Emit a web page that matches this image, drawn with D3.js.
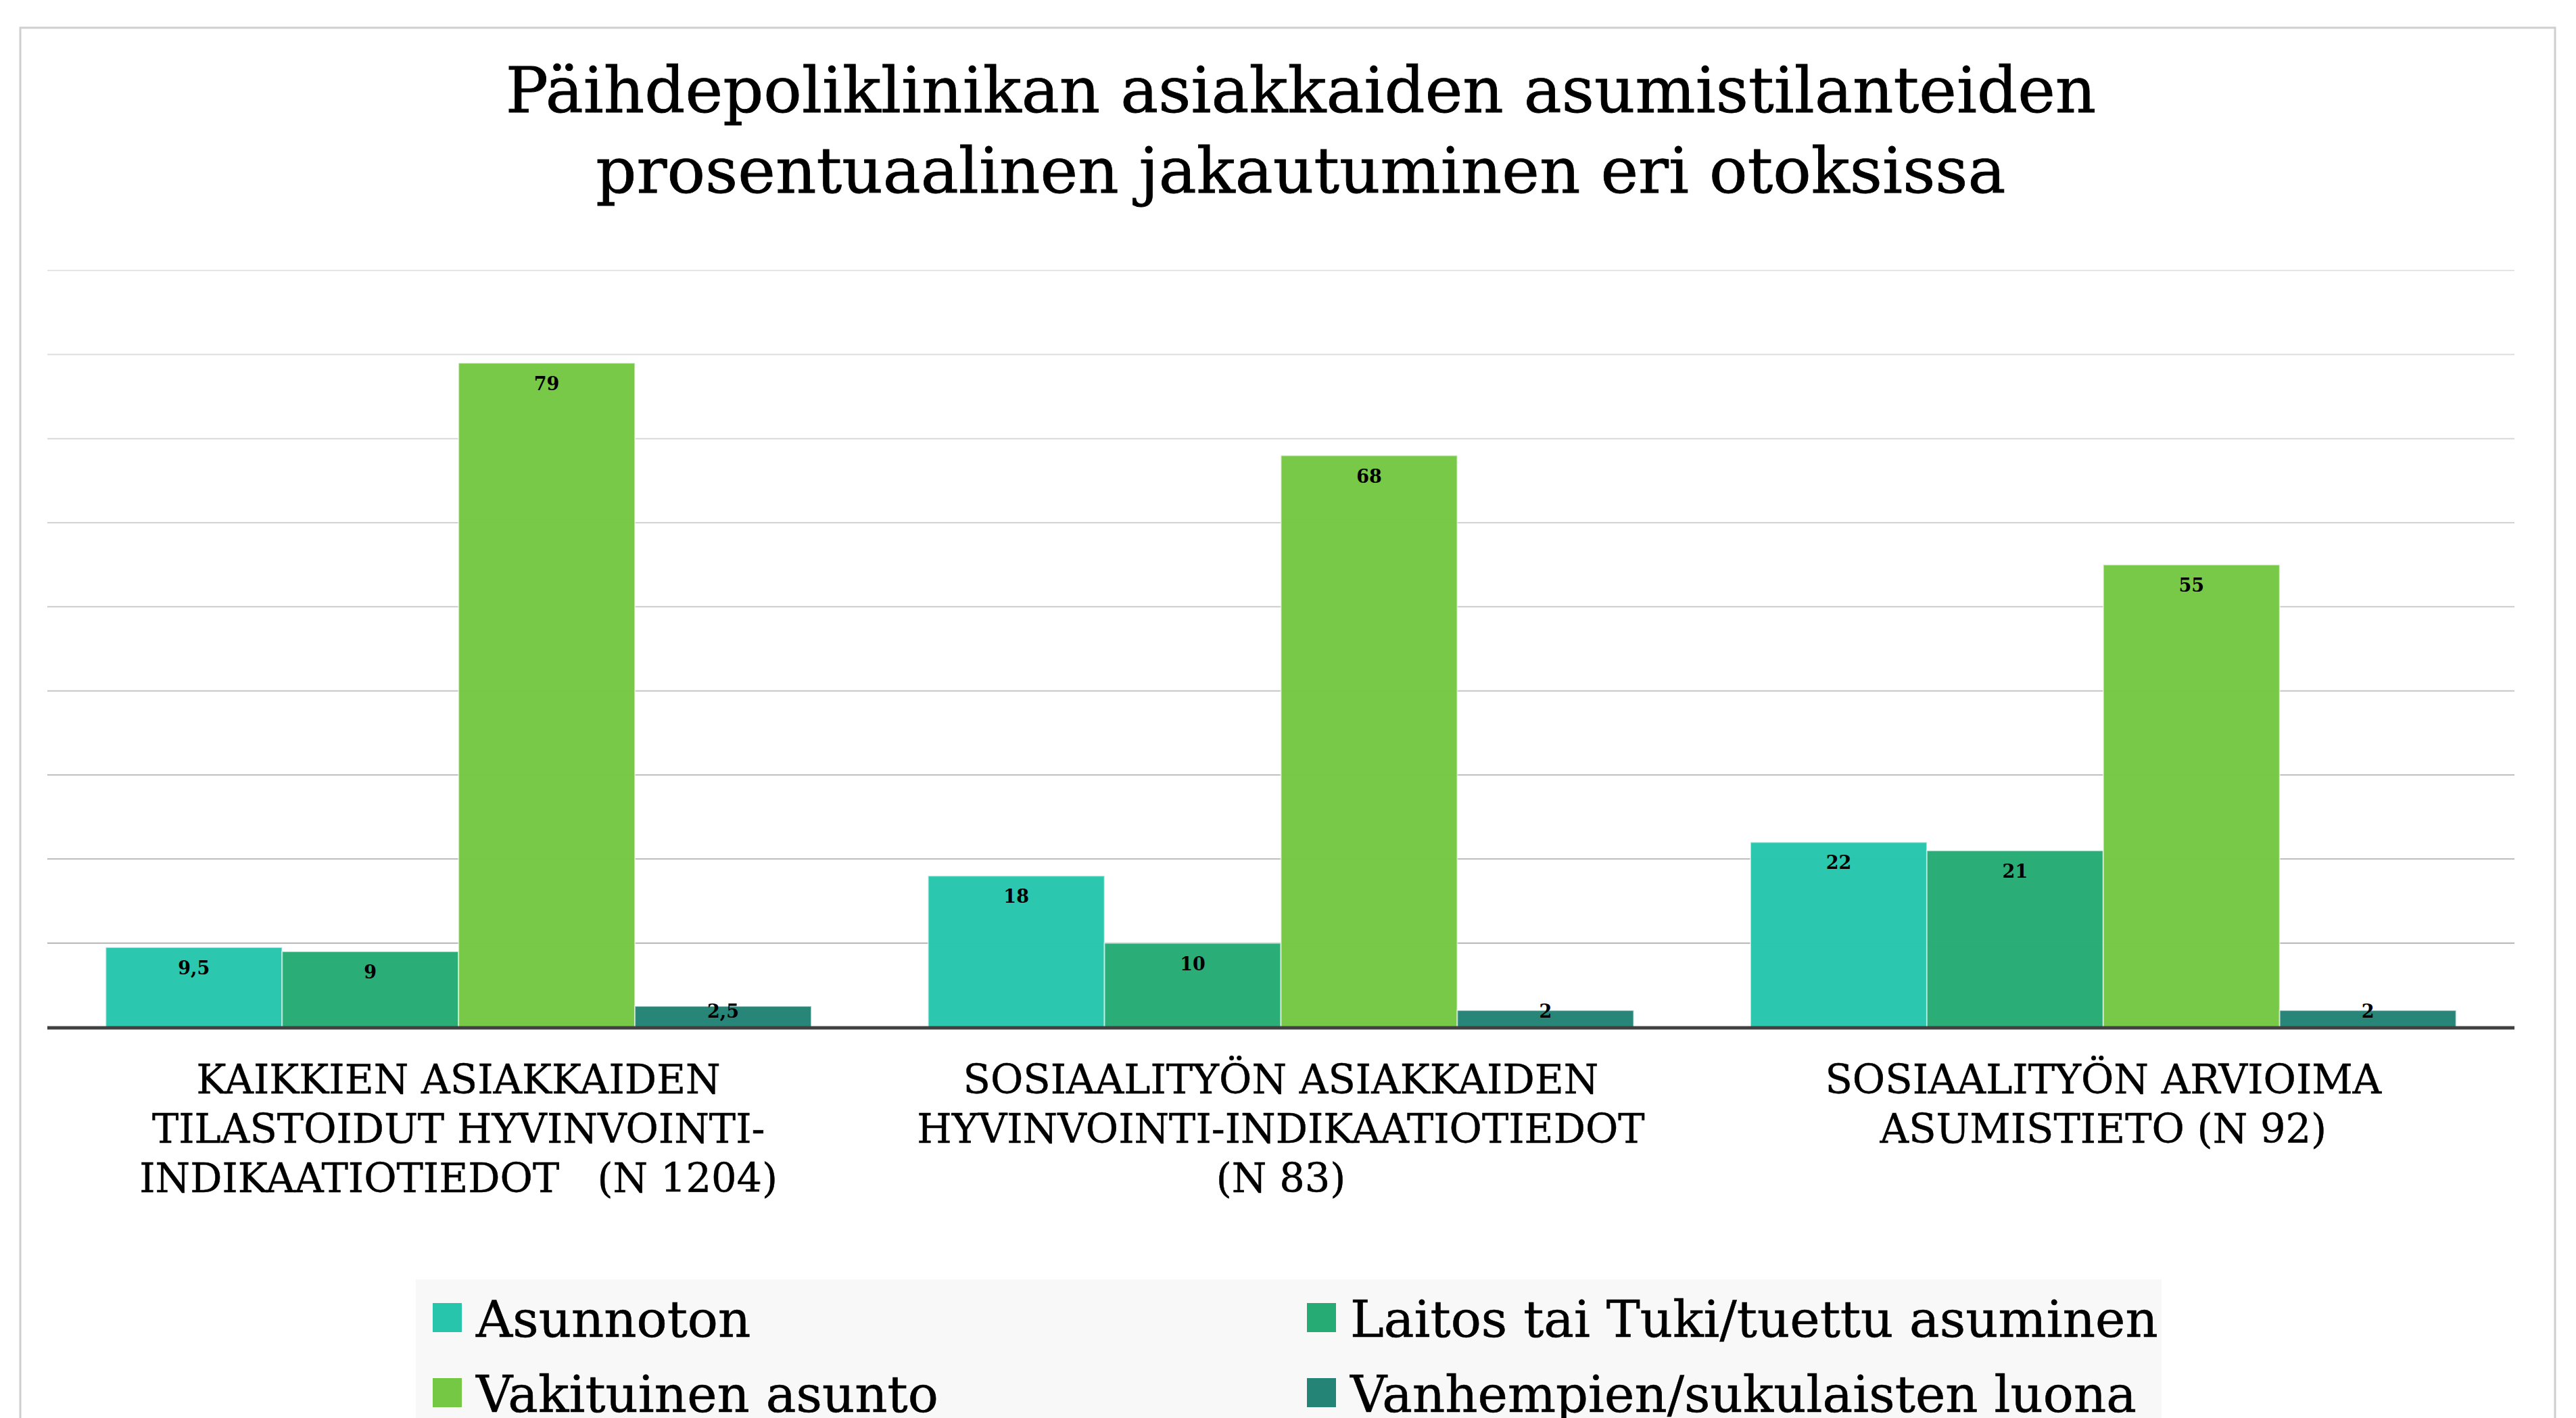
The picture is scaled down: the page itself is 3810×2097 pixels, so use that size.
<!DOCTYPE html>
<html>
<head>
<meta charset="utf-8">
<script src="https://cdn.jsdelivr.net/npm/d3@7"></script>
<style>
  html, body { margin: 0; padding: 0; background: #fff; }
  svg { display: block; }
</style>
</head>
<body>
<div id="chart"></div>
<script>
// Data
const TITLE_LINES = [
  'Päihdepoliklinikan asiakkaiden asumistilanteiden',
  'prosentuaalinen jakautuminen eri otoksissa'
];
const GROUPS = ['kaikki', 'sosAsiakkaat', 'sosArvio'];
const GROUP_LABELS = [
  ['KAIKKIEN ASIAKKAIDEN', 'TILASTOIDUT HYVINVOINTI-', 'INDIKAATIOTIEDOT \u00a0 (N 1204)'],
  ['SOSIAALITYÖN ASIAKKAIDEN', 'HYVINVOINTI-INDIKAATIOTIEDOT', '(N 83)'],
  ['SOSIAALITYÖN ARVIOIMA', 'ASUMISTIETO (N 92)']
];
const SERIES = ['Asunnoton', 'Laitos tai Tuki/tuettu asuminen', 'Vakituinen asunto', 'Vanhempien/sukulaisten luona'];
const SERIES_COLORS = ['#27c6ac', '#27ab74', '#75c843', '#248475'];
const ASUNNOTON = [9.5, 18, 22];
const LAITOS = [9, 10, 21];
const VAKITUINEN = [79, 68, 55];
const VANHEMPIEN = [2.5, 2, 2];
const Y_TICKS = [0, 10, 20, 30, 40, 50, 60, 70, 80, 90];

const W = 3810, H = 2097;
const PLOT = { left: 70, right: 3719, top: 400, bottom: 1519 };
const SERIF = '"DejaVu Serif", Georgia, serif';

const values = [ASUNNOTON, LAITOS, VAKITUINEN, VANHEMPIEN];
const rows = GROUPS.map((g, gi) => ({
  group: g,
  vals: SERIES.map((s, si) => ({ series: s, si, value: values[si][gi] }))
}));

const svg = d3.select('#chart').append('svg')
  .attr('width', W).attr('height', H);

// card frame
svg.append('rect')
  .attr('x', 30).attr('y', 41)
  .attr('width', 3749).attr('height', H)
  .attr('fill', '#fff')
  .attr('stroke', '#cfcfcf')
  .attr('stroke-width', 3);

// title
const title = svg.append('text')
  .attr('x', 1924).attr('y', 166)
  .attr('text-anchor', 'middle')
  .attr('font-family', SERIF)
  .attr('font-size', 94)
  .attr('stroke', '#000')
  .attr('stroke-width', 0.8)
  .attr('fill', '#000');
TITLE_LINES.forEach((t, i) => {
  title.append('tspan').attr('x', 1924).attr('dy', i === 0 ? 0 : 119).text(t);
});

const x0 = d3.scaleBand().domain(GROUPS)
  .range([PLOT.left, PLOT.right])
  .paddingInner(0.142).paddingOuter(0.071);
const x1 = d3.scaleBand().domain(SERIES).range([0, x0.bandwidth()]).padding(0);
const y = d3.scaleLinear().domain([0, 90]).range([PLOT.bottom, PLOT.top]);
const gridColor = d3.scaleLinear().domain([90, 10]).range(['#e4e4e4', '#b4b4b4']);

// gridlines
svg.append('g').selectAll('line')
  .data(Y_TICKS.filter(t => t > 0))
  .join('line')
  .attr('x1', PLOT.left).attr('x2', PLOT.right)
  .attr('y1', d => y(d)).attr('y2', d => y(d))
  .attr('stroke', d => gridColor(d))
  .attr('stroke-width', 2);

// bars
const groupsG = svg.append('g').selectAll('g')
  .data(rows)
  .join('g')
  .attr('transform', d => `translate(${x0(d.group)},0)`);

groupsG.selectAll('rect')
  .data(d => d.vals)
  .join('rect')
  .attr('x', d => x1(d.series))
  .attr('y', d => y(d.value))
  .attr('width', x1.bandwidth())
  .attr('height', d => y(0) - y(d.value))
  .attr('fill', d => SERIES_COLORS[d.si])
  .attr('fill-opacity', 0.98)
  .attr('stroke', 'rgba(255,255,255,0.55)')
  .attr('stroke-width', 2);

const fmt = v => String(v).replace('.', ',');
groupsG.selectAll('text.val')
  .data(d => d.vals)
  .join('text')
  .attr('class', 'val')
  .attr('x', d => x1(d.series) + x1.bandwidth() / 2)
  .attr('y', d => Math.min(y(d.value) + 40, y(0) - 14))
  .attr('text-anchor', 'middle')
  .attr('font-family', SERIF)
  .attr('font-weight', 'bold')
  .attr('font-size', 27)
  .attr('fill', '#000')
  .text(d => fmt(d.value));

// baseline
svg.append('line')
  .attr('x1', PLOT.left).attr('x2', PLOT.right)
  .attr('y1', y(0) + 1).attr('y2', y(0) + 1)
  .attr('stroke', '#404040')
  .attr('stroke-width', 5);

// category labels
const catG = svg.append('g');
GROUPS.forEach((g, gi) => {
  const t = catG.append('text')
    .attr('text-anchor', 'middle')
    .attr('font-family', SERIF)
    .attr('font-size', 59)
    .attr('fill', '#000')
    .attr('stroke', '#000')
    .attr('stroke-width', 0.5)
    .attr('y', 1617);
  const cx = x0(g) + x0.bandwidth() / 2;
  GROUP_LABELS[gi].forEach((line, li) => {
    t.append('tspan').attr('x', cx).attr('dy', li === 0 ? 0 : 73).text(line);
  });
});

// legend
svg.append('rect')
  .attr('x', 615).attr('y', 1892)
  .attr('width', 2582).attr('height', 260)
  .attr('fill', '#f8f8f8');

const legendPos = [[640, 0], [1933, 0], [640, 1], [1933, 1]];
const legendOrder = [0, 1, 2, 3];
const legend = svg.append('g').selectAll('g')
  .data(legendOrder)
  .join('g')
  .attr('transform', (d, i) => `translate(${legendPos[i][0]},${1927 + legendPos[i][1] * 111})`);
legend.append('rect')
  .attr('width', 43).attr('height', 43)
  .attr('fill', d => SERIES_COLORS[d]);
legend.append('text')
  .attr('x', 64).attr('y', 50)
  .attr('font-family', SERIF)
  .attr('font-size', 75)
  .attr('fill', '#000')
  .attr('stroke', '#000')
  .attr('stroke-width', 0.6)
  .text(d => SERIES[d]);
</script>
</body>
</html>
